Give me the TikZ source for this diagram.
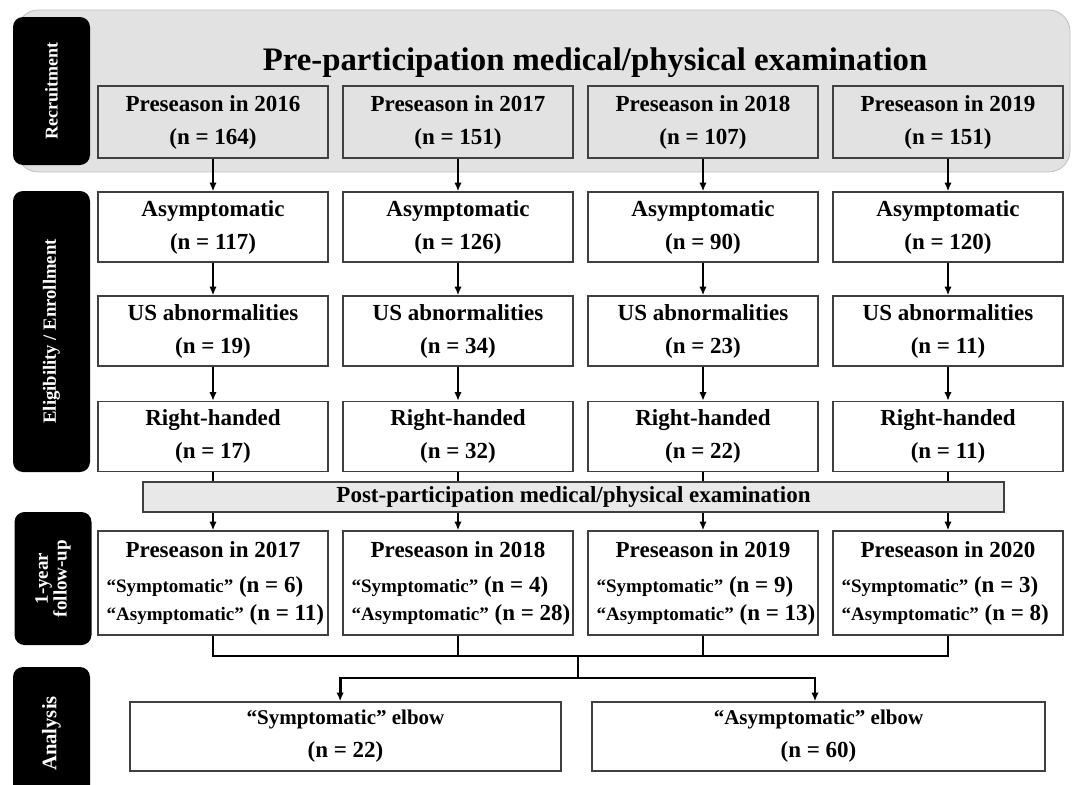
\documentclass[tikz,border=0pt]{standalone}
\usepackage{fontspec}
\setmainfont{Liberation Serif}
\usetikzlibrary{arrows.meta}
\newcommand{\quoted}[1]{{\fontsize{14.25}{21}\selectfont “#1”}}
\newcommand{\fuline}[2]{\makebox[172.5pt][l]{\hspace{6.5pt}\quoted{#1} (n = #2)}}

\begin{document}
\begin{tikzpicture}[
        x=0.75pt, y=-0.75pt,
        >={Latex[length=6.5pt,width=5.5pt]},
        box/.style={draw=black!75, line width=1pt, minimum width=172.5pt, minimum height=52.5pt, inner sep=0pt, align=center, font=\fontsize{17.25}{24.75}\selectfont\bfseries},
        fubox/.style={box, minimum height=78pt, font=\fontsize{17.25}{21}\selectfont\bfseries},
        endbox/.style={box, minimum height=51.75pt},
        tag/.style={fill=black, rounded corners=7.5pt, text=white, rotate=90, minimum height=57.75pt, inner sep=0pt, align=center, font=\fontsize{13.5}{14}\selectfont\bfseries},
        flow/.style={->, line width=1.5pt},
        bus/.style={line width=2pt}
    ]
        \useasboundingbox (0,0) rectangle (1072,785);

        % Recruitment panel
        \node[draw=gray!50, fill=gray!23, rounded corners=16pt, line width=0.6pt, minimum width=789.75pt, minimum height=121.5pt] (panel) at (543.5,91) {};
        \node[anchor=base, font=\fontsize{24.6}{30}\selectfont\bfseries] (title) at (595,70) {Pre-participation medical/physical examination};

        % Stage tags on the left
        \node[tag, minimum width=111pt] (recr) at (51.5,91) {Recruitment};
        \node[tag, minimum width=210.75pt, font=\fontsize{14}{14}\selectfont\bfseries] (elig) at (51.5,331.5) {Eligibility / Enrollment};
        \node[tag, minimum width=99.75pt, font=\fontsize{14.25}{14}\selectfont\bfseries] (fup) at (53,578.5) {1-year\\follow-up};
        \node[tag, minimum width=99.75pt, font=\fontsize{15.5}{16}\selectfont\bfseries] (anl) at (51.5,733.5) {Analysis};

        % Preseason rows
        \node[box, minimum height=54pt] (p1) at (213,122) {Preseason in 2016\\(n = 164)};
        \node[box, minimum height=54pt] (p2) at (458,122) {Preseason in 2017\\(n = 151)};
        \node[box, minimum height=54pt] (p3) at (703,122) {Preseason in 2018\\(n = 107)};
        \node[box, minimum height=54pt] (p4) at (948,122) {Preseason in 2019\\(n = 151)};

        \node[box] (a1) at (213,227) {Asymptomatic\\(n = 117)};
        \node[box] (a2) at (458,227) {Asymptomatic\\(n = 126)};
        \node[box] (a3) at (703,227) {Asymptomatic\\(n = 90)};
        \node[box] (a4) at (948,227) {Asymptomatic\\(n = 120)};

        \node[box] (u1) at (213,331) {US abnormalities\\(n = 19)};
        \node[box] (u2) at (458,331) {US abnormalities\\(n = 34)};
        \node[box] (u3) at (703,331) {US abnormalities\\(n = 23)};
        \node[box] (u4) at (948,331) {US abnormalities\\(n = 11)};

        \node[box] (r1) at (213,436.5) {Right-handed\\(n = 17)};
        \node[box] (r2) at (458,436.5) {Right-handed\\(n = 32)};
        \node[box] (r3) at (703,436.5) {Right-handed\\(n = 22)};
        \node[box] (r4) at (948,436.5) {Right-handed\\(n = 11)};

        \node[fubox] (f1) at (213,583) {Preseason in 2017\\[5.25pt]\fuline{Symptomatic}{6}\\\fuline{Asymptomatic}{11}};
        \node[fubox] (f2) at (458,583) {Preseason in 2018\\[5.25pt]\fuline{Symptomatic}{4}\\\fuline{Asymptomatic}{28}};
        \node[fubox] (f3) at (703,583) {Preseason in 2019\\[5.25pt]\fuline{Symptomatic}{9}\\\fuline{Asymptomatic}{13}};
        \node[fubox] (f4) at (948,583) {Preseason in 2020\\[5.25pt]\fuline{Symptomatic}{3}\\\fuline{Asymptomatic}{8}};

        % Arrows down each column
        \draw[flow] (p1) -- (a1);
        \draw[flow] (p2) -- (a2);
        \draw[flow] (p3) -- (a3);
        \draw[flow] (p4) -- (a4);
        \draw[flow] (a1) -- (u1);
        \draw[flow] (a2) -- (u2);
        \draw[flow] (a3) -- (u3);
        \draw[flow] (a4) -- (u4);
        \draw[flow] (u1) -- (r1);
        \draw[flow] (u2) -- (r2);
        \draw[flow] (u3) -- (r3);
        \draw[flow] (u4) -- (r4);
        \draw[flow] (r1) -- (f1);
        \draw[flow] (r2) -- (f2);
        \draw[flow] (r3) -- (f3);
        \draw[flow] (r4) -- (f4);

        % Bar over the arrows
        \node[box, fill=gray!18, line width=0.8pt, minimum width=645.75pt, minimum height=22.5pt] (post) at (573.5,497) {Post-participation medical/physical examination};

        % Analysis
        \node[endbox, minimum width=323.25pt] (sym) at (345.5,736.5) {{\fontsize{15.75}{24.75}\selectfont “Symptomatic” elbow}\\(n = 22)};
        \node[endbox, minimum width=339.75pt] (asym) at (818.5,736.5) {{\fontsize{15.75}{24.75}\selectfont “Asymptomatic” elbow}\\(n = 60)};

        \coordinate (join) at (578,656);
        \coordinate (split) at (578,678);
        \draw[bus] (f1) |- (join) -| (f4);
        \draw[bus] (f2) -- (f2 |- join);
        \draw[bus] (f3) -- (f3 |- join);
        \draw[bus] (join) -- (split);
        \draw[bus, ->] (split) -| ([xshift=-4pt]sym.north);
        \draw[bus, ->] (split) -| ([xshift=-2.6pt]asym.north);
    \end{tikzpicture}
\end{document}
